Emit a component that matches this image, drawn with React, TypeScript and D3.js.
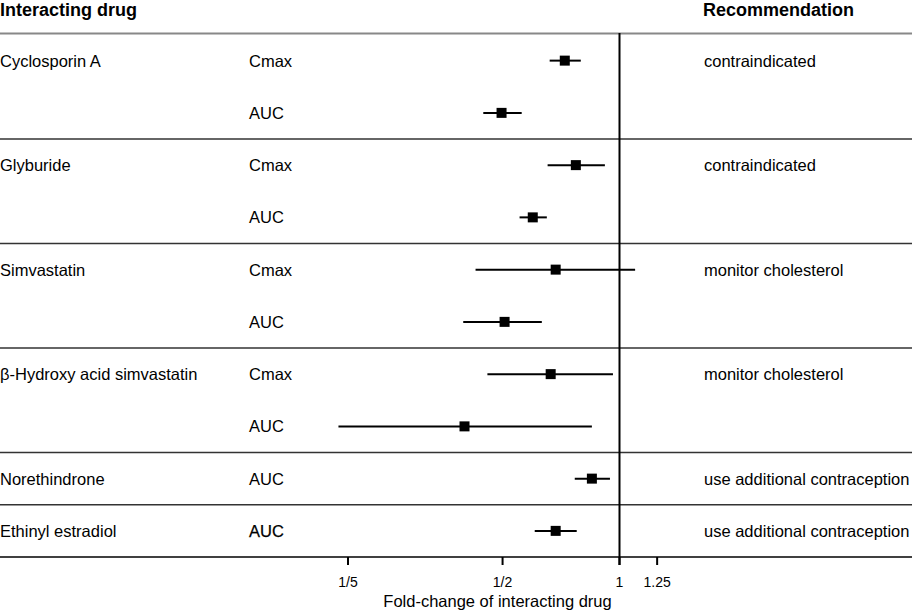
import React from "react";
import * as d3 from "d3";

const drugLabels = ["Cyclosporin A", "", "Glyburide", "", "Simvastatin", "", "β-Hydroxy acid simvastatin", "", "Norethindrone", "Ethinyl estradiol"];
const params = ["Cmax", "AUC", "Cmax", "AUC", "Cmax", "AUC", "Cmax", "AUC", "AUC", "AUC"];
const estimates = [0.723, 0.497, 0.772, 0.598, 0.685, 0.506, 0.665, 0.399, 0.849, 0.685];
const lower = [0.661, 0.446, 0.653, 0.553, 0.426, 0.396, 0.457, 0.189, 0.767, 0.605];
const upper = [0.795, 0.560, 0.917, 0.650, 1.097, 0.631, 0.962, 0.849, 0.945, 0.776];
const recommendations = ["contraindicated", "", "contraindicated", "", "monitor cholesterol", "", "monitor cholesterol", "", "use additional contraception", "use additional contraception"];
const groupEnds = [1, 3, 5, 7, 8];
const tickValues = [0.2, 0.5, 1, 1.25];
const tickLabels = ["1/5", "1/2", "1", "1.25"];

const W = 912;
const H = 610;
const FONT = "'Liberation Sans', Arial, Helvetica, sans-serif";

export default function App() {
  const x = d3.scaleLog().domain([0.2, 1]).range([348, 619.5]);
  const idx = d3.range(params.length);
  const y = d3.scaleBand<number>().domain(idx).range([34.5, 557]);
  const bw = y.bandwidth();
  const cy = (i: number) => (y(i) as number) + bw / 2;
  const axisY = 557;
  const sq = 10;

  return (
    <svg width={W} height={H} style={{ position: "absolute", left: 0, top: 0, background: "#fff" }} fontFamily={FONT}>
      <rect x={0} y={0} width={W} height={H} fill="#fff" />
      <text x={0} y={16} fontSize={18} fontWeight="bold" fill="#000">Interacting drug</text>
      <text x={703} y={16} fontSize={18} fontWeight="bold" fill="#000">Recommendation</text>
      <line x1={0} x2={W} y1={33.5} y2={33.5} stroke="#888" strokeWidth={2} />
      {groupEnds.map((g) => {
        const yy = (y(g) as number) + bw;
        return <line key={g} x1={0} x2={W} y1={yy} y2={yy} stroke="#333" strokeWidth={1.3} />;
      })}
      <line x1={x(1)} x2={x(1)} y1={33} y2={axisY + 8} stroke="#000" strokeWidth={2} />
      {idx.map((i) => (
        <g key={i}>
          {drugLabels[i] && (
            <text x={0} y={cy(i)} dy="0.36em" fontSize={16.5} fill="#000">{drugLabels[i]}</text>
          )}
          <text x={249} y={cy(i)} dy="0.36em" fontSize={16.5} fill="#000"
            stroke={i === 9 ? "#000" : "none"} strokeWidth={i === 9 ? 0.25 : 0}>{params[i]}</text>
          {recommendations[i] && (
            <text x={704} y={cy(i)} dy="0.36em" fontSize={16.5} fill="#000">{recommendations[i]}</text>
          )}
          <line x1={x(lower[i])} x2={x(upper[i])} y1={cy(i)} y2={cy(i)} stroke="#000" strokeWidth={2} />
          <rect x={x(estimates[i]) - sq / 2} y={cy(i) - sq / 2} width={sq} height={sq} fill="#000" />
        </g>
      ))}
      <line x1={0} x2={W} y1={axisY} y2={axisY} stroke="#000" strokeWidth={1.5} />
      {tickValues.map((t, k) => (
        <g key={t}>
          <line x1={x(t)} x2={x(t)} y1={axisY} y2={axisY + 8} stroke="#000" strokeWidth={2} />
          <text x={x(t)} y={587} textAnchor="middle" fontSize={14} fill="#000">{tickLabels[k]}</text>
        </g>
      ))}
      <text x={497.5} y={607} textAnchor="middle" fontSize={16.5} fill="#000">Fold-change of interacting drug</text>
    </svg>
  );
}
